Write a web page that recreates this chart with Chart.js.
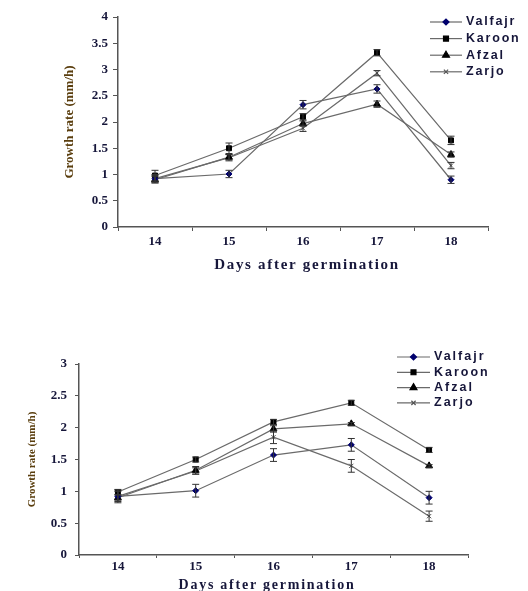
<!DOCTYPE html>
<html>
<head>
<meta charset="utf-8">
<script src="https://cdn.jsdelivr.net/npm/chart.js@4.4.1/dist/chart.umd.min.js"></script>
<style>
  html, body { margin: 0; padding: 0; background: #fff; }
  #wrap { position: relative; width: 528px; height: 591px; }
  canvas { position: absolute; left: 0; }
</style>
</head>
<body>
<div id="wrap">
  <canvas id="chartTop" width="528" height="290" style="top:0"></canvas>
  <canvas id="chartBottom" width="528" height="301" style="top:290px"></canvas>
</div>
<script>
//  data
const days = ['14', '15', '16', '17', '18'];
const varieties = ['Valfajr', 'Karoon', 'Afzal', 'Zarjo'];

// upper graph
const topValfajr = [0.92, 1.01, 2.33, 2.63, 0.90];
const topKaroon  = [0.98, 1.50, 2.10, 3.32, 1.65];
const topAfzal   = [0.90, 1.33, 1.97, 2.34, 1.38];
const topZarjo   = [0.92, 1.32, 1.88, 2.93, 1.17];
const topValfajrErr = [0.08, 0.07, 0.08, 0.08, 0.07];
const topKaroonErr  = [0.10, 0.10, 0.06, 0.06, 0.08];
const topAfzalErr   = [0.06, 0.05, 0.05, 0.06, 0.05];
const topZarjoErr   = [0.06, 0.06, 0.06, 0.05, 0.06];
const topYTicks = [0, 0.5, 1, 1.5, 2, 2.5, 3, 3.5, 4];

// lower graph
const botValfajr = [0.92, 1.01, 1.57, 1.73, 0.90];
const botKaroon  = [0.99, 1.50, 2.09, 2.39, 1.65];
const botAfzal   = [0.90, 1.33, 1.98, 2.06, 1.40];
const botZarjo   = [0.92, 1.32, 1.85, 1.40, 0.61];
const botValfajrErr = [0.08, 0.10, 0.10, 0.10, 0.10];
const botKaroonErr  = [0.04, 0.04, 0.04, 0.04, 0.04];
const botAfzalErr   = [0.04, 0.06, 0.05, 0.02, 0.02];
const botZarjoErr   = [0.10, 0.05, 0.10, 0.10, 0.08];
const botYTicks = [0, 0.5, 1, 1.5, 2, 2.5, 3];

const serif = '"Liberation Serif", "Times New Roman", serif';
const sans = '"Liberation Sans", Arial, sans-serif';
const inkColor = '#16163a';
const lineColor = '#6a6a6a';

// marker look for each variety
const markerStyle = {
    Valfajr: { pointStyle: 'rectRot', pointRadius: 3, pointBackgroundColor: '#00006e', pointBorderColor: '#00006e' },
    Karoon:  { pointStyle: 'rect', pointRadius: 3.5, pointBackgroundColor: '#000', pointBorderColor: '#000' },
    Afzal:   { pointStyle: 'triangle', pointRadius: 4, pointBackgroundColor: '#000', pointBorderColor: '#000' },
    Zarjo:   { pointStyle: 'crossRot', pointRadius: 3, pointBackgroundColor: '#555', pointBorderColor: '#555' }
};

//  error bars drawn through the y scale
const errorBars = {
    id: 'errorBars',
    afterDatasetsDraw(chart) {
        const ctx = chart.ctx;
        const yScale = chart.scales.y;
        ctx.save();
        ctx.strokeStyle = '#333';
        ctx.lineWidth = 1;
        chart.data.datasets.forEach((ds, i) => {
            const meta = chart.getDatasetMeta(i);
            meta.data.forEach((pt, j) => {
                const v = ds.data[j], e = ds.errors[j];
                const y1 = yScale.getPixelForValue(v - e);
                const y2 = yScale.getPixelForValue(v + e);
                ctx.beginPath();
                ctx.moveTo(pt.x, y1); ctx.lineTo(pt.x, y2);
                ctx.moveTo(pt.x - 3.5, y1); ctx.lineTo(pt.x + 3.5, y1);
                ctx.moveTo(pt.x - 3.5, y2); ctx.lineTo(pt.x + 3.5, y2);
                ctx.stroke();
            });
        });
        ctx.restore();
    }
};

//  legend with line + marker, and the spaced x title
const lineLegend = {
    id: 'lineLegend',
    afterDraw(chart, args, opts) {
        const ctx = chart.ctx;
        ctx.save();
        chart.data.datasets.forEach((ds, i) => {
            const y = opts.top + i * opts.gap;
            ctx.strokeStyle = lineColor;
            ctx.lineWidth = 1.2;
            ctx.beginPath();
            ctx.moveTo(opts.left, y);
            ctx.lineTo(opts.left + opts.len, y);
            ctx.stroke();
            ctx.fillStyle = ds.pointBackgroundColor;
            ctx.strokeStyle = ds.pointBorderColor;
            Chart.helpers.drawPoint(ctx, { pointStyle: ds.pointStyle, radius: ds.pointRadius, borderWidth: 1, rotation: 0 },
                                    opts.left + opts.len / 2, y);
            ctx.fillStyle = inkColor;
            ctx.font = 'bold 12.5px ' + sans;
            ctx.letterSpacing = opts.spacing + 'px';
            ctx.textBaseline = 'middle';
            ctx.textAlign = 'left';
            ctx.fillText(ds.label, opts.left + opts.len + 4, y);
        });
        // x axis title
        ctx.fillStyle = inkColor;
        ctx.font = 'bold ' + opts.titleSize + 'px ' + serif;
        ctx.letterSpacing = opts.titleSpacing + 'px';
        ctx.textAlign = 'center';
        ctx.textBaseline = 'middle';
        ctx.fillText('Days after germination', opts.titleX, opts.titleY);
        ctx.restore();
    }
};

function makeChart(id, series, errs, yTicks, cfg) {
    const datasets = varieties.map((name, i) => Object.assign({
        label: name,
        data: series[i],
        errors: errs[i],
        borderColor: lineColor,
        borderWidth: 1.2,
        tension: 0,
        pointBorderWidth: 1
    }, markerStyle[name]));

    return new Chart(document.getElementById(id), {
        type: 'line',
        data: { labels: days, datasets: datasets },
        options: {
            responsive: false,
            animation: false,
            layout: { padding: cfg.padding },
            plugins: {
                legend: { display: false },
                tooltip: { enabled: false },
                lineLegend: cfg.legend
            },
            scales: {
                x: {
                    offset: true,
                    grid: { offset: true, drawOnChartArea: false, tickLength: cfg.xTickLen, color: '#555' },
                    border: { color: '#555', width: 1.5 },
                    ticks: { color: inkColor, padding: cfg.xTickPad, font: { family: serif, size: 13, weight: 'bold' } },
                    afterFit: s => { s.height = cfg.xHeight; }
                },
                y: {
                    min: yTicks[0],
                    max: yTicks[yTicks.length - 1],
                    afterBuildTicks: s => { s.ticks = yTicks.map(v => ({ value: v })); },
                    grid: { drawOnChartArea: false, tickLength: cfg.yTickLen, color: '#555' },
                    border: { color: '#555', width: 1.5 },
                    ticks: {
                        color: inkColor, padding: cfg.yTickPad,
                        font: { family: serif, size: 13, weight: 'bold' },
                        callback: v => String(v)
                    },
                    title: {
                        display: true,
                        text: 'Growth rate (mm/h)',
                        color: '#5a3e0e',
                        padding: { top: 4, bottom: 0 },
                        font: { family: serif, size: cfg.yTitleSize, weight: 'bold', lineHeight: 1.2 }
                    },
                    afterFit: s => { s.width = cfg.yWidth; }
                }
            }
        },
        plugins: [errorBars, lineLegend]
    });
}

makeChart('chartTop',
    [topValfajr, topKaroon, topAfzal, topZarjo],
    [topValfajrErr, topKaroonErr, topAfzalErr, topZarjoErr],
    topYTicks,
    {
        padding: { left: 58, right: 40, top: 17, bottom: 16 },
        yWidth: 60, xHeight: 47,
        yTickLen: 5, yTickPad: 5, xTickLen: 4, xTickPad: 3,
        yTitleSize: 13,
        legend: { left: 430, top: 22, gap: 16.6, len: 32, spacing: 1.8, titleX: 307, titleY: 265, titleSize: 15, titleSpacing: 1.7 }
    });

makeChart('chartBottom',
    [botValfajr, botKaroon, botAfzal, botZarjo],
    [botValfajrErr, botKaroonErr, botAfzalErr, botZarjoErr],
    botYTicks,
    {
        padding: { left: 22, right: 60, top: 74, bottom: 0 },
        yWidth: 57, xHeight: 36,
        yTickLen: 4, yTickPad: 8, xTickLen: 3, xTickPad: 1,
        yTitleSize: 11,
        legend: { left: 397, top: 67, gap: 15.3, len: 33, spacing: 2, titleX: 267, titleY: 295, titleSize: 14, titleSpacing: 1.75 }
    });
</script>
</body>
</html>
